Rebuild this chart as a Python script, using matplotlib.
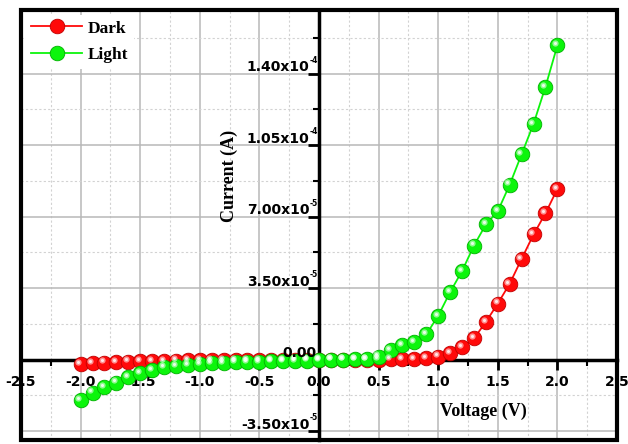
import numpy as np
import matplotlib
matplotlib.use("Agg")
import matplotlib.pyplot as plt
from matplotlib.patches import Rectangle
from matplotlib.transforms import offset_copy

plt.rcParams["font.family"] = "DejaVu Sans"
plt.rcParams["font.weight"] = "bold"

# I-V sweep, -2 V to +2 V
voltage = [-2.0, -1.9, -1.8, -1.7, -1.6, -1.5, -1.4, -1.3, -1.2, -1.1,
           -1.0, -0.9, -0.8, -0.7, -0.6, -0.5, -0.4, -0.3, -0.2, -0.1,
           0.0, 0.1, 0.2, 0.3, 0.4, 0.5, 0.6, 0.7, 0.8, 0.9,
           1.0, 1.1, 1.2, 1.3, 1.4, 1.5, 1.6, 1.7, 1.8, 1.9, 2.0]

# currents in microamps
dark_uA = [-2.2, -1.8, -1.5, -1.3, -1.0, -0.85, -0.7, -0.6, -0.5, -0.45,
           -0.4, -0.35, -0.3, -0.27, -0.24, -0.2, -0.17, -0.14, -0.1, -0.05,
           0.0, 0.0, 0.0, 0.0, 0.0, 0.0, 0.2, 0.1, 0.2, 0.6,
           1.4, 3.3, 6.2, 10.3, 18.4, 27.4, 37.1, 49.3, 61.2, 71.6, 83.5]

light_uA = [-19.7, -16.2, -13.6, -11.3, -8.7, -6.7, -5.1, -3.8, -3.2, -2.7,
            -2.2, -1.9, -1.6, -1.4, -1.2, -1.1, -0.9, -0.7, -0.6, -0.5,
            -0.2, 0.0, 0.0, 0.1, 0.3, 1.4, 4.6, 7.1, 8.4, 12.3,
            21.4, 33.0, 43.3, 55.8, 66.1, 72.6, 85.6, 100.5, 115.4, 133.5, 153.8]

yticks = [-3.5e-5, 0.0, 3.5e-5, 7.0e-5, 1.05e-4, 1.4e-4]
ytick_mantissa = ["-3.50x10", "0.00", "3.50x10", "7.00x10", "1.05x10", "1.40x10"]
ytick_exponent = ["-5", "", "-5", "-5", "-4", "-4"]
xticks = [-2.5, -2.0, -1.5, -1.0, -0.5, 0.0, 0.5, 1.0, 1.5, 2.0, 2.5]

v = np.array(voltage)
dark = np.array(dark_uA) * 1e-6
light = np.array(light_uA) * 1e-6

fig = plt.figure(figsize=(6.28, 4.44), dpi=100)
ax = fig.add_axes([21 / 628, 4 / 444, 596 / 628, 430 / 444])

ax.set_xlim(-2.5, 2.5)
ax.set_ylim(-3.94e-5, 1.711e-4)

# axes cross at the origin
for side in ("left", "bottom"):
    ax.spines[side].set_position("zero")
    ax.spines[side].set_linewidth(2.5)
for side in ("top", "right"):
    ax.spines[side].set_visible(False)

ax.add_patch(Rectangle((0, 0), 1, 1, transform=ax.transAxes, fill=False,
                       lw=3, edgecolor="black", clip_on=False, zorder=10))

ax.set_xticks(xticks)
ax.set_xticklabels([f"{t:.1f}" for t in xticks])
ax.set_xticks(np.arange(-2.5, 2.51, 0.25), minor=True)
ax.set_yticks(yticks)
ax.set_yticklabels([])
ax.set_yticks(np.arange(-3.5e-5, 1.72e-4, 1.75e-5), minor=True)

ax.tick_params(axis="x", which="major", direction="out", length=7, width=2,
               labelsize=10, pad=4)
ax.tick_params(axis="x", which="minor", direction="out", length=4, width=1.5)
ax.tick_params(axis="y", which="major", direction="out", length=8, width=2)
ax.tick_params(axis="y", which="minor", direction="out", length=4, width=1.5)

# y labels in "a.bcx10^n" form, small raised exponent
for val, man, exp in zip(yticks, ytick_mantissa, ytick_exponent):
    dx = -7 if exp else -1.5
    ax.annotate(man, xy=(0, val), xytext=(dx, 1.5), textcoords="offset points",
                ha="right", va="baseline", fontsize=10, zorder=9)
    if exp:
        ax.annotate(exp, xy=(0, val), xytext=(-6.4, 7.8),
                    textcoords="offset points", ha="left", va="baseline",
                    fontsize=5.5, zorder=9)

ax.grid(which="major", color="#b8b8b8", lw=1.1, ls="-")
ax.grid(which="minor", color="#d2d2d2", lw=0.8, ls=(0, (2, 2)))
ax.set_axisbelow(True)


def sphere_series(x, y, color, edge, label):
    ax.plot(x, y, "-", color=color, lw=1.3, marker="o", ms=10.5,
            mfc=color, mec=edge, mew=0.6, label=label, zorder=4)
    hl = offset_copy(ax.transData, fig=fig, x=-1.6, y=1.6, units="points")
    ax.plot(x, y, "o", transform=hl, ms=4.5, mfc="white", mec="none",
            alpha=0.55, zorder=5)
    ax.plot(x, y, "o", transform=hl, ms=2.2, mfc="white", mec="none",
            alpha=0.8, zorder=5)


sphere_series(v, dark, "#ff0a0a", "#c00000", "Dark")
sphere_series(v, light, "#0cf50c", "#00b000", "Light")

serif = dict(family="Liberation Serif", weight="bold", size=13)
ax.text(-0.75, 9.0e-5, "Current (A)", rotation=90, ha="center", va="center",
        fontdict=serif)
ax.text(1.38, -2.55e-5, "Voltage (V)", ha="center", va="center", fontdict=serif)

leg = ax.legend(loc="upper left", prop=dict(family="Liberation Serif",
                weight="bold", size=12.5), handlelength=2.9, labelspacing=0.62,
                handletextpad=0.35, borderaxespad=0.3, frameon=True,
                fancybox=False, borderpad=0.3)
leg.get_frame().set_edgecolor("none")
leg.get_frame().set_facecolor("white")
leg.get_frame().set_alpha(1.0)
leg.set_zorder(8)

fig.savefig("out.png", dpi=100)
